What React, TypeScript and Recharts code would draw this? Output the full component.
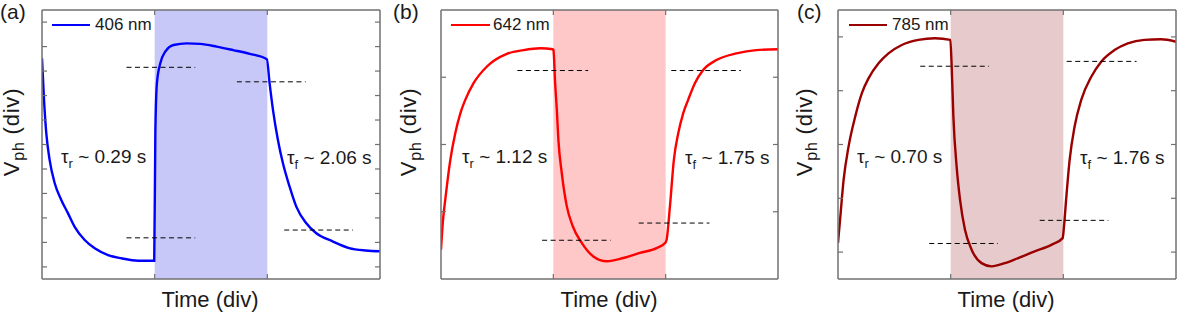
import React from 'react';
import { ComposedChart, Line, XAxis, YAxis, ReferenceArea, ReferenceLine } from 'recharts';

// ---------- data (time in div, photovoltage in div) ----------
const timeA = [0, 1.8, 3.8, 6.8, 11.3, 17.1, 23.1, 29, 37.9, 46.8, 58.6, 70.4, 85.2, 99.6,
  100.6, 102, 105, 109.4, 116.8, 128.5, 140.3, 155, 169.7, 184.4, 199.6,
  202, 205, 209.4, 213.8, 219.7, 225.6, 234.4, 243.2, 257.9, 272.6, 287.4, 300];
const valueA = [82.0, 66.5, 54.2, 44.2, 35.6, 29.4, 24.4, 19.4, 14.5, 11.4, 8.9, 7.7, 6.8, 6.8,
  54.2, 72.8, 80.2, 84.5, 87.0, 87.6, 87.4, 86.4, 85.1, 83.7, 81.7,
  72.8, 62.9, 51.7, 43.1, 34.4, 27.0, 20.8, 17.1, 14.0, 11.5, 10.6, 10.3];

const timeB = [0, 1.8, 3.8, 8.3, 12.7, 17.2, 21.6, 29, 40.9, 58.6, 73.4, 88.3, 99.5,
  100.1, 101.6, 103.1, 104.5, 107.5, 112, 117.3, 125.3, 135.6, 147.5, 162.3, 177.1, 191.9, 199.9,
  200.8, 203.8, 207.3, 211.2, 215.6, 220, 226, 233.4, 245.2, 263, 280.7, 300];
const valueB = [10.9, 22, 29.5, 44.3, 54.2, 61.6, 66.6, 72.8, 79, 83.7, 85.1, 85.8, 85.4,
  85.1, 72.8, 62.9, 51.7, 39.4, 27, 19.6, 13.4, 8.4, 6.6, 7.8, 9.7, 11.5, 13.6,
  14.6, 27, 44.3, 54.2, 61.6, 66.6, 72.8, 77.7, 81.4, 83.9, 85.1, 85.4];

const timeC = [0, 2.1, 5, 9.4, 15.3, 21.2, 27.1, 36, 44.8, 56.6, 71.4, 86.1, 99.7,
  100.9, 102.4, 105.3, 108.3, 112.7, 118.6, 127.4, 136.3, 148.1, 159.9, 174.6, 189.4, 199.4,
  200.6, 202.7, 205.6, 210, 215.9, 224.8, 233.6, 245.4, 257.2, 271.9, 286.7, 300];
const valueC = [13.4, 23.3, 36.9, 49.3, 60.4, 69.1, 74.6, 80.2, 83.9, 87, 88.9, 89.5, 88.9,
  79, 60.4, 41.8, 29.5, 18.3, 10.9, 5.9, 4.7, 5.9, 7.8, 10.3, 12.7, 15.2,
  19.6, 30.7, 44.3, 56.7, 66.6, 75.2, 80.8, 85.1, 87.6, 88.9, 89.1, 88.2];

const yTicksA = [4.5, 13.6, 22.7, 31.8, 40.9, 50, 59.1, 68.2, 77.3, 86.4, 95.5];
const yTicksB = [25, 50, 75];
const yTicksC = [10, 30, 50, 70, 90];
const xTicks = [100, 200];
const lightOn = [100, 200];

const dashA = [
  { y: 78.7, x1: 75, x2: 136 },
  { y: 15.3, x1: 75, x2: 136 },
  { y: 73.3, x1: 173, x2: 234 },
  { y: 18.2, x1: 215, x2: 276 },
];
const dashB = [
  { y: 77.5, x1: 68, x2: 131 },
  { y: 14.4, x1: 90, x2: 151 },
  { y: 20.8, x1: 176, x2: 239 },
  { y: 77.5, x1: 205, x2: 267 },
];
const dashC = [
  { y: 79.1, x1: 73, x2: 134 },
  { y: 13.2, x1: 81, x2: 142 },
  { y: 21.8, x1: 179, x2: 240 },
  { y: 80.9, x1: 203, x2: 265 },
];

const panelLabels = ['(a)', '(b)', '(c)'];
const wavelengths = ['406 nm', '642 nm', '785 nm'];
const tauR = ['0.29', '1.12', '0.70'];
const tauF = ['2.06', '1.75', '1.76'];

// ---------- styles / layout ----------
const FONT = '"Liberation Sans", Arial, Helvetica, sans-serif';
const FRAME = '#707070';
const H = 313;

const panels = [
  {
    time: timeA, value: valueA, yTicks: yTicksA, dashes: dashA,
    color: '#0000ff', shade: '#c8c8f8',
    left: 0, width: 390, margin: { top: 10, right: 10, bottom: 34, left: 42 },
    label: { x: 0 }, vph: { x: 13 }, timeX: 210,
    leg: { x1: 52, x2: 90, tx: 95 }, tr: 61, tf: 287,
  },
  {
    time: timeB, value: valueB, yTicks: yTicksB, dashes: dashB,
    color: '#ff0000', shade: '#ffc8c8',
    left: 390, width: 400, margin: { top: 10, right: 12, bottom: 34, left: 51 },
    label: { x: 393 }, vph: { x: 410 }, timeX: 609,
    leg: { x1: 451, x2: 490, tx: 493 }, tr: 462, tf: 685,
  },
  {
    time: timeC, value: valueC, yTicks: yTicksC, dashes: dashC,
    color: '#9a0000', shade: '#e6cacc',
    left: 785, width: 392, margin: { top: 10, right: 1, bottom: 34, left: 53 },
    label: { x: 797 }, vph: { x: 806 }, timeX: 1006,
    leg: { x1: 849, x2: 887, tx: 892 }, tr: 857, tf: 1080,
  },
];

const axisLine = { stroke: FRAME, strokeWidth: 1.5 };
const tickLine = { stroke: FRAME, strokeWidth: 1.2 };
const blank = () => '';

function Panel({ p }: { p: any }) {
  const data = p.time.map((t: number, i: number) => ({ t, v: p.value[i] }));
  const common = { tickSize: 5, axisLine, tickLine, tickFormatter: blank, mirror: true, allowDataOverflow: true };
  return (
    <div style={{ position: 'absolute', left: p.left, top: 0, width: p.width, height: H }}>
      <ComposedChart width={p.width} height={H} data={data} margin={p.margin}>
        <ReferenceArea xAxisId="b" yAxisId="l" x1={lightOn[0]} x2={lightOn[1]} y1={0} y2={100}
          fill={p.shade} fillOpacity={1} stroke="none" />
        <XAxis xAxisId="b" dataKey="t" type="number" domain={[0, 300]} ticks={xTicks}
          orientation="bottom" {...common} />
        <XAxis xAxisId="t" dataKey="t" type="number" domain={[0, 300]} ticks={xTicks}
          orientation="top" {...common} />
        <YAxis yAxisId="l" type="number" domain={[0, 100]} ticks={p.yTicks}
          orientation="left" {...common} />
        <YAxis yAxisId="r" type="number" domain={[0, 100]} ticks={p.yTicks}
          orientation="right" {...common} />
        <Line xAxisId="b" yAxisId="l" dataKey="v" type="monotone" stroke={p.color}
          strokeWidth={2.4} dot={false} activeDot={false} isAnimationActive={false} />
        {p.dashes.map((d: any, i: number) => (
          <ReferenceLine key={i} xAxisId="b" yAxisId="l"
            segment={[{ x: d.x1, y: d.y }, { x: d.x2, y: d.y }]}
            stroke="#000" strokeWidth={1} strokeDasharray="5 3.5" />
        ))}
      </ComposedChart>
    </div>
  );
}

const txt: React.CSSProperties = { position: 'absolute', fontFamily: FONT, color: '#1a1a1a', whiteSpace: 'nowrap' };

export default function App() {
  return (
    <div style={{ position: 'absolute', left: 0, top: 0, width: 1177, height: H, background: '#fff', overflow: 'hidden' }}>
      {panels.map((p, i) => (
        <Panel key={'p' + i} p={p} />
      ))}
      {panels.map((p, i) => (
        <React.Fragment key={'o' + i}>
          <div style={{ ...txt, left: p.label.x, top: 1, fontSize: 21, lineHeight: '21px' }}>{panelLabels[i]}</div>
          <div style={{
            ...txt, left: p.vph.x, top: 132, fontSize: 22, lineHeight: '22px', letterSpacing: 0.8,
            transform: 'translate(-50%, -50%) rotate(-90deg)',
          }}>
            V<span style={{ fontSize: 16, position: 'relative', top: 5 }}>ph</span> (div)
          </div>
          <div style={{ ...txt, left: p.timeX, top: 289, fontSize: 22, lineHeight: '22px', transform: 'translateX(-50%)' }}>Time (div)</div>
          <div style={{ position: 'absolute', left: p.leg.x1, top: 24.3, width: p.leg.x2 - p.leg.x1, height: 1.5, background: p.color }} />
          <div style={{ ...txt, left: p.leg.tx, top: 16, fontSize: 17, lineHeight: '17px' }}>{wavelengths[i]}</div>
          <div style={{ ...txt, left: p.tr, top: 147, fontSize: 19, lineHeight: '19px' }}>
            τ<span style={{ fontSize: 13, position: 'relative', top: 5 }}>r</span> ~ {tauR[i]} s
          </div>
          <div style={{ ...txt, left: p.tf, top: 148, fontSize: 19, lineHeight: '19px' }}>
            τ<span style={{ fontSize: 13, position: 'relative', top: 5 }}>f</span> ~ {tauF[i]} s
          </div>
        </React.Fragment>
      ))}
    </div>
  );
}
